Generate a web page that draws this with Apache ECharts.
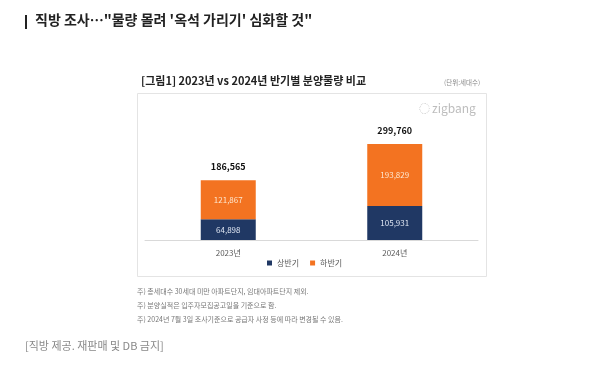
<!DOCTYPE html>
<html><head><meta charset="utf-8">
<script src="https://cdn.jsdelivr.net/npm/echarts@6/dist/echarts.min.js"></script>
<style>html,body{margin:0;padding:0;background:#fff}#c{width:614px;height:365px}</style>
</head><body><div id="c"></div>
<script>
const categories = ['2023년', '2024년'];
const firstHalf = [64898, 105931];
const secondHalf = [121867, 193829];
const totals = [186565, 299760];
const seriesNames = ['상반기', '하반기'];
const notes = [
  '주) 총세대수 30세대 미만 아파트단지, 임대아파트단지 제외.',
  '주) 분양실적은 입주자모집공고일을 기준으로 함.',
  '주) 2024년 7월 3일 조사기준으로 공급자 사정 등에 따라 변경될 수 있음.'
];
const F = '"Noto Sans CJK KR", "Noto Sans", sans-serif';
const fmt = v => v.toLocaleString('en-US');
const chart = echarts.init(document.getElementById('c'), null, {renderer: 'canvas'});
chart.setOption({
  backgroundColor: '#fff',
  textStyle: {fontFamily: F},
  animation: false,
  grid: {left: 145, right: 136, top: 112, bottom: 125},
  xAxis: {
    type: 'category', data: categories,
    axisLine: {lineStyle: {color: '#d9d9d9'}}, axisTick: {show: false},
    axisLabel: {color: '#595959', fontSize: 8, margin: 9, fontFamily: F}
  },
  yAxis: {type: 'value', min: 0, max: 400000, show: false, splitLine: {show: false}},
  legend: {
    data: seriesNames, bottom: 93, left: 262, itemWidth: 5, itemHeight: 5, itemGap: 11,
    icon: 'rect', textStyle: {color: '#595959', fontSize: 8, fontFamily: F}
  },
  series: [
    {name: seriesNames[0], type: 'bar', stack: 's', barWidth: 55, data: firstHalf,
     itemStyle: {color: '#203864'},
     label: {show: true, position: 'inside', color: '#dfe6f2', fontSize: 8, formatter: p => fmt(p.value)}},
    {name: seriesNames[1], type: 'bar', stack: 's', barWidth: 55, data: secondHalf,
     itemStyle: {color: '#f37321'},
     label: {show: true, position: 'inside', color: '#fde7cf', fontSize: 8, formatter: p => fmt(p.value)}},
    {name: '합계', type: 'bar', stack: 's', barWidth: 55, data: totals.map(() => 0),
     itemStyle: {color: 'transparent'},
     label: {show: true, position: 'top', distance: 9, color: '#111', fontSize: 9, fontWeight: 'bold',
       formatter: p => fmt(totals[p.dataIndex])}}
  ],
  graphic: [
    {type: 'rect', shape: {x: 137.5, y: 93.5, width: 349, height: 183}, style: {fill: 'none', stroke: '#e4e4e4', lineWidth: 1}, z: -1},
    {type: 'rect', shape: {x: 25, y: 15, width: 2, height: 14}, style: {fill: '#222'}},
    {type: 'text', left: 35, top: 13, style: {text: '직방 조사…"물량 몰려 \'옥석 가리기\' 심화할 것"', font: 'bold 14px ' + F, fill: '#222'}},
    {type: 'text', left: 141, top: 75, style: {text: '[그림1] 2023년 vs 2024년 반기별 분양물량 비교', font: 'bold 11px ' + F, fill: '#222'}},
    {type: 'text', left: 444, top: 79, style: {text: '(단위:세대수)', font: '6.5px ' + F, fill: '#888'}},
    {type: 'text', left: 432, top: 102, style: {text: 'zigbang', font: '12px ' + F, fill: '#bdbdbd'}},
    {type: 'text', left: 419, top: 103, style: {text: '◌', font: '11px ' + F, fill: '#bdbdbd'}},
    {type: 'text', left: 137, top: 288, style: {text: notes[0], font: '7px ' + F, fill: '#777'}},
    {type: 'text', left: 137, top: 302, style: {text: notes[1], font: '7px ' + F, fill: '#777'}},
    {type: 'text', left: 137, top: 316, style: {text: notes[2], font: '7px ' + F, fill: '#777'}},
    {type: 'text', left: 25, top: 340, style: {text: '[직방 제공. 재판매 및 DB 금지]', font: '11px ' + F, fill: '#888'}}
  ]
});
</script></body></html>
